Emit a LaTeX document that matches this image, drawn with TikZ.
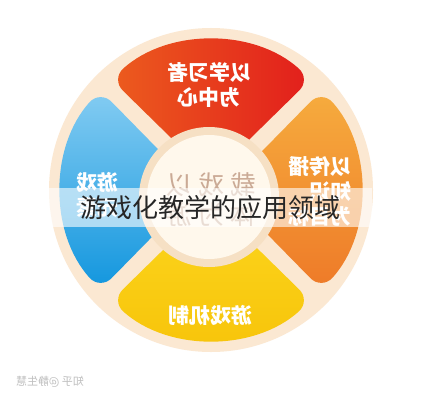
\documentclass[tikz,border=0pt]{standalone}
\usepackage{fontspec}
\newfontfamily\cjk{Noto Sans CJK SC}
\usetikzlibrary{positioning}
\definecolor{ringbeige}{HTML}{FBE8D2}
\definecolor{hubedge}{HTML}{F6E0C4}
\definecolor{hubfill}{HTML}{FFF8EC}
\definecolor{inkbrown}{HTML}{A8765C}
\tikzstyle{redshade} = [left color={rgb,255:red,236;green,92;blue,30}, right color={rgb,255:red,226;green,30;blue,28}]
\tikzstyle{orangeshade} = [top color={rgb,255:red,246;green,172;blue,62}, bottom color={rgb,255:red,238;green,122;blue,40}]
\tikzstyle{yellowshade} = [top color={rgb,255:red,252;green,214;blue,30}, bottom color={rgb,255:red,247;green,196;blue,10}]
\tikzstyle{blueshade} = [top color={rgb,255:red,132;green,204;blue,242}, bottom color={rgb,255:red,18;green,150;blue,222}]
\tikzstyle{sectortext} = [text=white, font=\cjk\bfseries\fontsize{21}{25}\selectfont, xscale=-1]

\begin{document}
\begin{tikzpicture}[x=1pt,y=1pt]
  \useasboundingbox (0,0) rectangle (422,400);
  \fill[white] (0,0) rectangle (422,400);
  % Place ring and sectors
  \coordinate (C) at (211,210);
  \fill[ringbeige] (C) circle[radius=162];
  \foreach \ang/\shd in {90/redshade, 0/orangeshade, 270/yellowshade, 180/blueshade}
    \path[\shd, rounded corners=16pt, shift={(C)}]
      (\ang:13) -- (\ang-42:149) arc[start angle=\ang-42, end angle=\ang+42, radius=149] -- cycle;
  % Place hub
  \fill[hubedge] (209,203) circle[radius=70];
  \fill[hubfill] (209,203) circle[radius=62];
  \node[text=inkbrown, font=\cjk\fontsize{26}{30}\selectfont, align=center, xscale=-1, opacity=.6]
    (hub) at (211,200) {载\hspace{6pt}戏\hspace{6pt}以\\体\hspace{6pt}为\hspace{6pt}游};
  % Place sector labels
  \node[sectortext, align=center] (learner) at (209,315) {以学习者\\为中心};
  \node[sectortext, align=left] (spread) at (320,208) {以传播\\知识\\为目标};
  \node[sectortext, align=center] (mechanic) at (210,85) {游戏机制};
  \node[sectortext, align=center] (thinking) at (97,205) {游戏\\元素};
  % Place caption band
  \fill[white, opacity=.6] (40,173) rectangle (372,212);
  \node[font=\cjk\fontsize{26}{30}\selectfont, text=black!85] (caption) at (210,192) {游戏化教学的应用领域};
  \node[font=\cjk\fontsize{11}{13}\selectfont, text=black!25, xscale=-1] (mark) at (50,18) {知乎 @静生慧};
\end{tikzpicture}
\end{document}
